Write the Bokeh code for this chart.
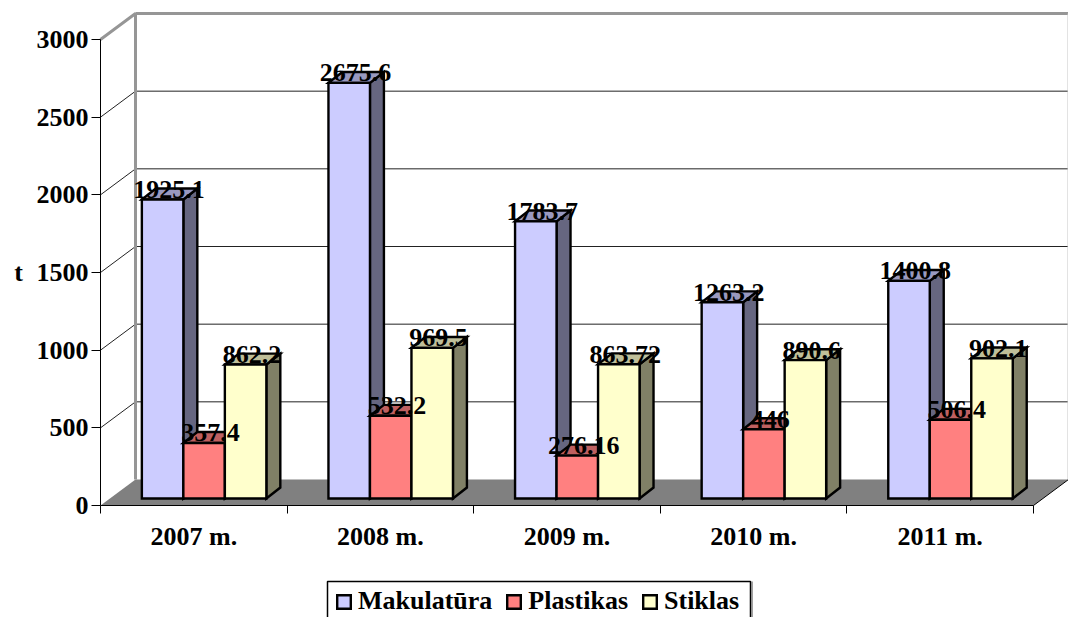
from bokeh.plotting import figure
from bokeh.models import (Range1d, LinearAxis, FixedTicker, Legend, LegendItem, Label,
                          ColumnDataSource)
from bokeh.core.properties import value
from bokeh.embed import file_html
from bokeh.resources import INLINE

categories = ["2007 m.", "2008 m.", "2009 m.", "2010 m.", "2011 m."]
makulatura = [1925.1, 2675.6, 1783.7, 1263.2, 1400.8]
plastikas = [357.4, 532.2, 276.16, 446, 506.4]
stiklas = [862.2, 969.5, 863.72, 890.6, 902.1]
y_ticks = [0, 500, 1000, 1500, 2000, 2500, 3000]

series = [
    ("Makulatūra", makulatura, "#CCCCFF", "#666680", "#9999BF"),
    ("Plastikas", plastikas, "#FF8080", "#804040", "#BF6060"),
    ("Stiklas", stiklas, "#FFFFCC", "#808066", "#BFBF99"),
]

FONT = "Liberation Serif"
FS = "26px"
N = len(categories)
PX = 466 / 3000     # pixels per value unit
CW = 186.6          # pixels per category
DX = 35 / CW        # wall depth, in category units
DY = 26 / PX        # wall depth, in value units
GAP = 0.171
BW = 0.2224
F0, F1 = 0.27, 0.69  # bar depth range, as fractions of the wall depth
BAR_LW = 2.4

p = figure(width=1068, height=617, output_backend="svg", toolbar_location=None,
           x_range=Range1d(-100 / CW, N + DX), y_range=Range1d(-112 / PX, 497 / PX),
           x_axis_type=None, y_axis_type=None,
           min_border_left=0, min_border_right=0, min_border_top=8, min_border_bottom=0,
           outline_line_color=None, background_fill_color="white")
p.xgrid.visible = False
p.ygrid.visible = False

# floor
p.patch([0, N, N + DX, DX], [0, 0, DY, DY], fill_color="#808080", line_color=None)

# grid on the back and side walls
for t in y_ticks[1:-1]:
    p.line([0, DX, N + DX], [t, t + DY, t + DY], line_color="#222222", line_width=1)

# wall edges
WALL = "#969696"
p.line([0, DX, DX], [y_ticks[-1], y_ticks[-1] + DY, DY], line_color=WALL, line_width=3)
p.line([DX, N + DX], [y_ticks[-1] + DY, y_ticks[-1] + DY], line_color=WALL, line_width=3)
p.line([N + DX, N + DX], [y_ticks[-1] + DY, DY], line_color="#C8C8C8", line_width=2)
p.line([N, N + DX], [0, DY], line_color="black", line_width=1)

# frame of the legend
LL, LR = 227 / CW, 650 / CW
LT, LB = -76 / PX, -120 / PX
p.quad(left=LL, right=LR, top=LT, bottom=LB, fill_color="white", line_color="black", line_width=1.5)
p.line([LR + 1.5 / CW] * 2, [LT, LB], line_color="#808080", line_width=1.5)

items = []
for si, (name, vals, front, side, top) in enumerate(series):
    lefts = [i + GAP + si * BW + F0 * DX for i in range(N)]
    rights = [l + BW for l in lefts]
    bottoms = [F0 * DY] * N
    tops = [v + F0 * DY for v in vals]
    ddx = (F1 - F0) * DX * 0.95
    ddy = (F1 - F0) * DY
    p.patches([[r, r + ddx, r + ddx, r] for r in rights],
              [[b, b + ddy, t + ddy, t] for b, t in zip(bottoms, tops)],
              fill_color=side, line_color="black", line_width=BAR_LW, line_join="miter")
    p.patches([[l, r, r + ddx, l + ddx] for l, r in zip(lefts, rights)],
              [[t, t, t + ddy, t + ddy] for t in tops],
              fill_color=top, line_color="black", line_width=BAR_LW, line_join="miter")
    q = p.quad(left=lefts, right=rights, bottom=bottoms, top=tops,
               fill_color=front, line_color="black", line_width=BAR_LW, line_join="miter")
    items.append(LegendItem(label=name, renderers=[q]))

# data labels
for si, (name, vals, *_rest) in enumerate(series):
    src = ColumnDataSource(dict(
        x=[i + GAP + (si + 0.5) * BW + (F0 + F1) / 2 * DX for i in range(N)],
        y=[v + F0 * DY for v in vals],
        t=[str(v) for v in vals]))
    p.text("x", "y", text="t", source=src, text_font=value(FONT), text_font_style="bold",
           text_font_size=FS, text_align="center", text_baseline="alphabetic",
           text_color="black", x_offset=-1, y_offset=-10)

# axes
yaxis = LinearAxis(ticker=FixedTicker(ticks=y_ticks), bounds=(y_ticks[0], y_ticks[-1]),
                   fixed_location=0,
                   major_tick_out=9, major_tick_in=0, minor_tick_out=0, minor_tick_in=0,
                   major_tick_line_color="black", axis_line_color="black",
                   major_label_standoff=3, major_label_text_font=FONT,
                   major_label_text_font_style="bold", major_label_text_font_size=FS,
                   major_label_text_color="black")
p.add_layout(yaxis, "left")

tick_axis = LinearAxis(ticker=FixedTicker(ticks=list(range(N + 1))), bounds=(0, N),
                       fixed_location=0,
                       major_tick_out=8, major_tick_in=0, minor_tick_out=0, minor_tick_in=0,
                       axis_line_color="black", major_tick_line_color="black",
                       major_label_overrides={i: "" for i in range(N + 1)},
                       major_label_standoff=0, major_label_text_font_size="1px")
p.add_layout(tick_axis, "below")

pos = [i + 0.5 for i in range(N)]
label_axis = LinearAxis(ticker=FixedTicker(ticks=pos), axis_line_color=None,
                        fixed_location=0,
                        major_tick_line_color=None, minor_tick_line_color=None,
                        major_tick_out=0, major_tick_in=0, minor_tick_out=0, minor_tick_in=0,
                        major_label_overrides=dict(zip(pos, categories)),
                        major_label_standoff=16, major_label_text_font=FONT,
                        major_label_text_font_style="bold", major_label_text_font_size=FS,
                        major_label_text_color="black")
p.add_layout(label_axis, "below")

p.add_layout(Label(x=-82 / CW, y=1500, text="t", text_font=FONT, text_font_style="bold",
                   text_font_size=FS, text_align="center", text_baseline="middle",
                   text_color="black"))

legend = Legend(items=items, orientation="horizontal", location=(335, 1),
                glyph_width=17, glyph_height=17, label_standoff=6, spacing=13,
                padding=8, margin=0, label_text_font=FONT, label_text_font_style="bold",
                label_text_font_size=FS, label_text_color="black",
                border_line_color=None, background_fill_alpha=0)
p.add_layout(legend, "center")

open("out.html", "w").write(file_html(p, INLINE))
